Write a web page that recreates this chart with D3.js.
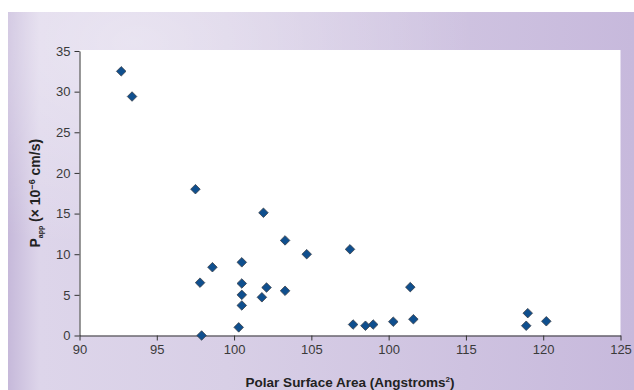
<!DOCTYPE html>
<html>
<head>
<meta charset="utf-8">
<script src="https://cdn.jsdelivr.net/npm/d3@7"></script>
<style>
  html, body { margin: 0; padding: 0; background: #fff; }
  svg { display: block; }
  text { font-family: "Liberation Sans", Arial, sans-serif; }
</style>
</head>
<body>
<div id="chart"></div>
<script>
// Data
const psa = [92.7, 93.4, 97.5, 97.8, 97.9, 98.6, 100.3, 100.5, 100.5, 100.5,
             100.5, 101.8, 101.9, 102.1, 103.3, 103.3, 104.7, 107.5, 107.7, 108.5,
             109.0, 110.3, 111.4, 111.6, 118.9, 119.0, 120.2];
const papp = [32.5, 29.4, 18.0, 6.5, 0.0, 8.4, 1.0, 9.0, 6.4, 5.0,
              3.7, 4.7, 15.1, 5.9, 11.7, 5.5, 10.0, 10.6, 1.35, 1.2,
              1.35, 1.7, 5.95, 2.0, 1.2, 2.75, 1.75];
const xTicks = [90, 95, 100, 105, 110, 115, 120, 125];
// the original figure labels the 110 tick as "100"
const xTickLabels = ["90", "95", "100", "105", "100", "115", "120", "125"];
const yTicks = [0, 5, 10, 15, 20, 25, 30, 35];

const width = 634, height = 390;
const margin = { top: 51, right: 13.5, bottom: 54.5, left: 79.5 };

const svg = d3.select("#chart").append("svg")
    .attr("width", width)
    .attr("height", height);

// Background panel gradients
const defs = svg.append("defs");
const bg = defs.append("linearGradient")
    .attr("id", "bg").attr("x1", 0).attr("y1", 0).attr("x2", 1).attr("y2", 0);
bg.append("stop").attr("offset", "0").attr("stop-color", "#c6b9da");
bg.append("stop").attr("offset", "0.05").attr("stop-color", "#ddd5ea");
bg.append("stop").attr("offset", "0.35").attr("stop-color", "#d8cfe6");
bg.append("stop").attr("offset", "1").attr("stop-color", "#c7b9dc");

const glow = defs.append("radialGradient")
    .attr("id", "glow").attr("cx", 0.2).attr("cy", 0.08).attr("r", 0.55);
glow.append("stop").attr("offset", "0").attr("stop-color", "#ffffff").attr("stop-opacity", 0.4);
glow.append("stop").attr("offset", "1").attr("stop-color", "#ffffff").attr("stop-opacity", 0);

svg.append("rect")
    .attr("x", 8).attr("y", 12)
    .attr("width", width - 8).attr("height", height - 12)
    .attr("fill", "url(#bg)");
svg.append("rect")
    .attr("x", 8).attr("y", 12)
    .attr("width", width - 8).attr("height", height - 12)
    .attr("fill", "url(#glow)");

const x = d3.scaleLinear()
    .domain([90, 125])
    .range([margin.left, width - margin.right]);
const y = d3.scaleLinear()
    .domain([0, 35])
    .range([height - margin.bottom, margin.top]);

// White plotting area
svg.append("rect")
    .attr("x", x(90))
    .attr("y", y(35) - 1)
    .attr("width", x(125) - x(90))
    .attr("height", y(0) - y(35) + 1)
    .attr("fill", "#ffffff");

// Axes
const xAxis = svg.append("g")
    .attr("transform", `translate(0,${y(0)})`)
    .call(d3.axisBottom(x)
        .tickValues(xTicks)
        .tickFormat((d, i) => xTickLabels[i])
        .tickSize(5)
        .tickSizeOuter(0)
        .tickPadding(4));

const yAxis = svg.append("g")
    .attr("transform", `translate(${x(90)},0)`)
    .call(d3.axisLeft(y)
        .tickValues(yTicks)
        .tickSize(5)
        .tickSizeOuter(0)
        .tickPadding(4));

[xAxis, yAxis].forEach(g => {
    g.attr("font-size", null).attr("font-family", null);
    g.select(".domain").attr("stroke", "#333").attr("stroke-width", 1);
    g.selectAll(".tick line").attr("stroke", "#333");
    g.selectAll(".tick text")
        .attr("fill", "#3a3a3a")
        .style("font-size", "13px");
});

// Points as diamonds
svg.append("g")
    .selectAll("path")
    .data(psa)
    .enter().append("path")
    .attr("d", d3.symbol().type(d3.symbolDiamond2).size(58))
    .attr("transform", (d, i) => `translate(${x(d)},${y(papp[i])})`)
    .attr("fill", "#0f4f8e")
    .attr("stroke", "#3a3f48")
    .attr("stroke-width", 0.8);

// Axis titles
svg.append("text")
    .attr("x", (x(90) + x(125)) / 2)
    .attr("y", 387)
    .attr("text-anchor", "middle")
    .style("font-size", "13.5px")
    .style("font-weight", "bold")
    .attr("fill", "#222")
    .call(t => {
        t.append("tspan").text("Polar Surface Area (Angstroms");
        t.append("tspan").attr("font-size", "8px").attr("dy", -5).text("2");
        t.append("tspan").attr("dy", 5).text(")");
    });

const yTitle = svg.append("text")
    .attr("transform", `translate(40,${(y(0) + y(35)) / 2}) rotate(-90)`)
    .attr("text-anchor", "middle")
    .style("font-size", "14px")
    .style("font-weight", "bold")
    .attr("fill", "#222");
yTitle.append("tspan").text("P");
yTitle.append("tspan").attr("font-size", "7px").attr("dy", 3).text("app");
yTitle.append("tspan").attr("dy", -3).text(" (× 10");
yTitle.append("tspan").attr("font-size", "9px").attr("dy", -5).text("−6");
yTitle.append("tspan").attr("dy", 5).text(" cm/s)");
</script>
</body>
</html>
